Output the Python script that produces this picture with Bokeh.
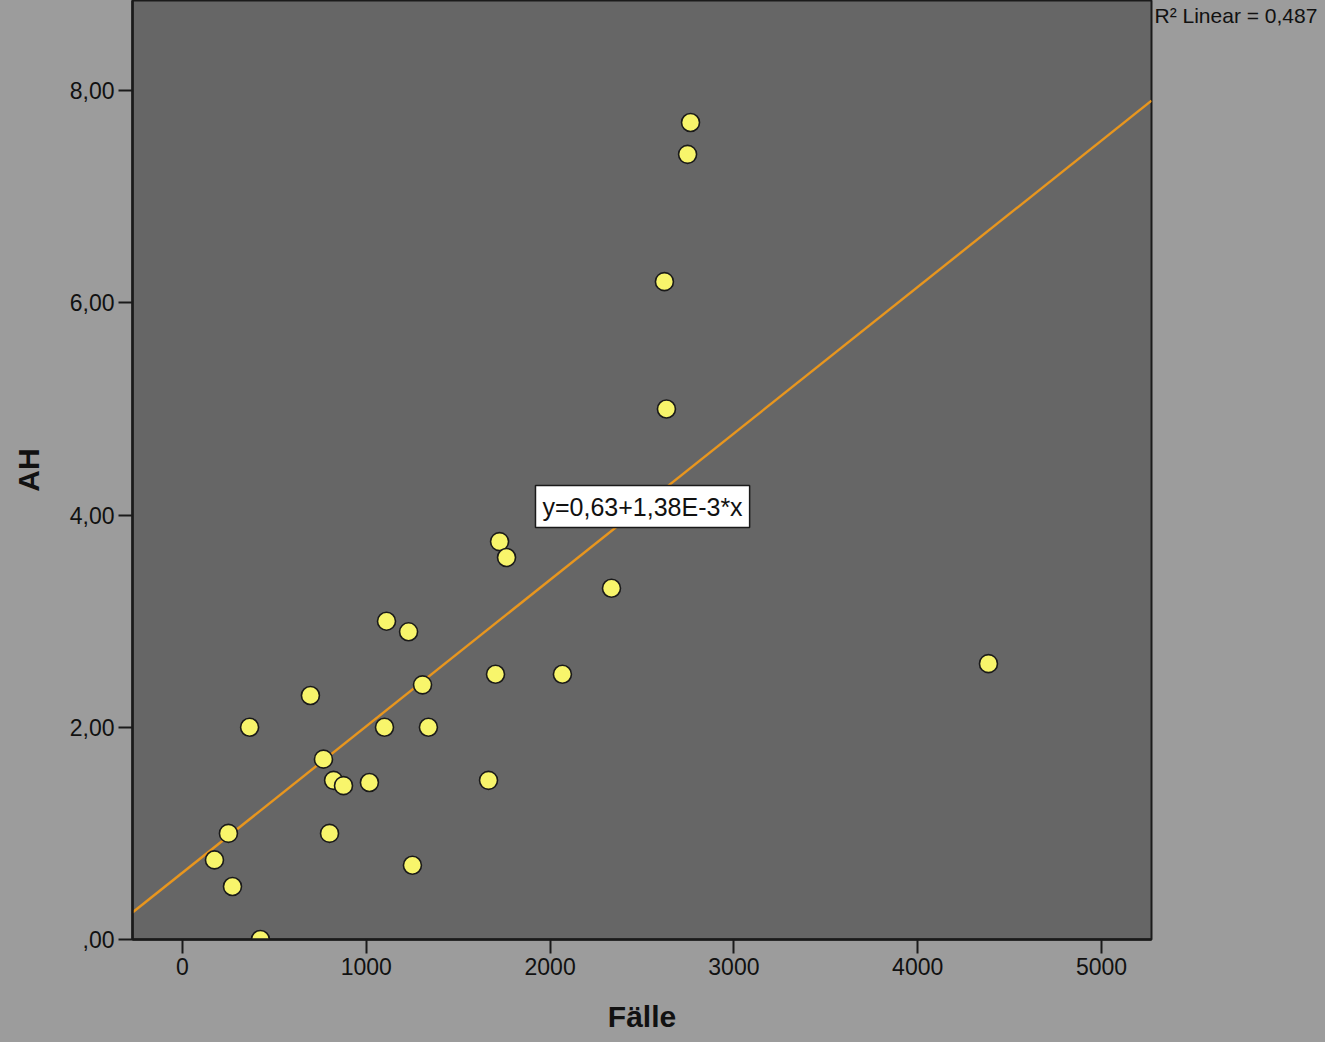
from bokeh.plotting import figure
from bokeh.models import Label, FixedTicker, Range1d
from bokeh.layouts import row
from bokeh.embed import file_html
from bokeh.resources import INLINE

# Data
faelle = [174, 250, 272, 365, 424, 696, 767, 800, 822, 876, 1017, 1099, 1110, 1230,
          1251, 1306, 1338, 1665, 1703, 1725, 1763, 2067, 2334, 2622, 2633, 2748, 2764, 4385]
ah = [0.75, 1.0, 0.5, 2.0, 0.0, 2.3, 1.7, 1.0, 1.5, 1.45, 1.48, 2.0, 3.0, 2.9,
      0.7, 2.4, 2.0, 1.5, 2.5, 3.75, 3.6, 2.5, 3.31, 6.2, 5.0, 7.4, 7.7, 2.6]

fit_intercept = 0.63
fit_slope = 1.38e-3
r2_text = "R\u00b2 Linear = 0,487"
eq_text = "y=0,63+1,38E-3*x"

x_ticks = [0, 1000, 2000, 3000, 4000, 5000]
x_tick_labels = ["0", "1000", "2000", "3000", "4000", "5000"]
y_ticks = [0, 2, 4, 6, 8]
y_tick_labels = [",00", "2,00", "4,00", "6,00", "8,00"]

X_START, X_END = -272, 5272
Y_START, Y_END = 0, 8.85

FONT = "Liberation Sans"
PANEL = "#9c9c9c"
INK = "#111111"

p = figure(width=1153, height=1042, output_backend="svg", toolbar_location=None,
           x_range=Range1d(X_START, X_END), y_range=Range1d(Y_START, Y_END),
           min_border_left=132, min_border_right=2, min_border_top=0,
           min_border_bottom=103,
           background_fill_color="#666666", border_fill_color=PANEL,
           outline_line_color="#1a1a1a", outline_line_width=2,
           styles={"background-color": PANEL})

p.xgrid.visible = False
p.ygrid.visible = False

for ax in (p.xaxis[0], p.yaxis[0]):
    ax.axis_line_color = "#1a1a1a"
    ax.axis_line_width = 2.5
    ax.major_tick_line_color = "#1a1a1a"
    ax.major_tick_line_width = 2
    ax.major_tick_in = 0
    ax.major_tick_out = 14
    ax.minor_tick_line_color = None
    ax.major_label_text_font = FONT
    ax.major_label_text_font_size = "23px"
    ax.major_label_text_color = INK
    ax.major_label_standoff = 4
    ax.axis_label_text_font = FONT
    ax.axis_label_text_font_size = "30px"
    ax.axis_label_text_font_style = "bold"
    ax.axis_label_text_color = INK
    ax.axis_label_standoff = 22

p.xaxis.ticker = FixedTicker(ticks=x_ticks)
p.xaxis.major_label_overrides = {t: l for t, l in zip(x_ticks, x_tick_labels)}
p.yaxis.ticker = FixedTicker(ticks=y_ticks)
p.yaxis.major_label_overrides = {t: l for t, l in zip(y_ticks, y_tick_labels)}
p.xaxis.axis_label = "Fälle"
p.yaxis.axis_label = "AH"

# regression line across the x range
line_x = [X_START, X_END]
line_y = [fit_intercept + fit_slope * v for v in line_x]
p.line(line_x, line_y, line_color="#e8961e", line_width=2.4)

p.scatter(faelle, ah, size=18, fill_color="#f8f56b", line_color="#1a1a1a", line_width=1.6)

p.add_layout(Label(x=2503, y=4.08, text=eq_text, text_align="center", text_baseline="middle",
                   text_font=FONT, text_font_size="25px", text_color=INK,
                   background_fill_color="white", border_line_color="#1a1a1a",
                   border_line_width=1.5, padding=7))

# right-hand panel holding the R² note
side = figure(width=172, height=1042, output_backend="svg", toolbar_location=None,
              x_range=Range1d(0, 1), y_range=Range1d(0, 1),
              x_axis_type=None, y_axis_type=None,
              min_border_left=0, min_border_right=0, min_border_top=0, min_border_bottom=0,
              background_fill_color=PANEL, border_fill_color=PANEL,
              outline_line_color=None, styles={"background-color": PANEL})
side.grid.visible = False
side.add_layout(Label(x=0, y=1, x_offset=1, y_offset=-3, text=r2_text,
                      text_align="left", text_baseline="top",
                      text_font=FONT, text_font_size="21px", text_color=INK))

layout = row(p, side, spacing=0, styles={"background-color": PANEL})

html = file_html(layout, INLINE, title="AH vs Fälle")
html = html.replace("<body>", '<body style="background-color:#3c3c3c;">', 1)
open("out.html", "w").write(html)
